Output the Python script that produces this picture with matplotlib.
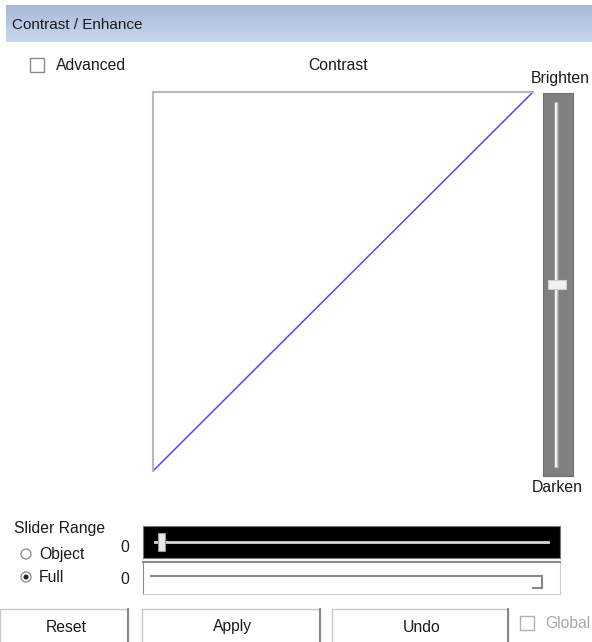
import matplotlib
matplotlib.use("Agg")
import matplotlib.pyplot as plt
import numpy as np
from matplotlib.patches import Rectangle
from matplotlib.colors import LinearSegmentedColormap

plt.rcParams['font.family'] = ['Liberation Sans', 'DejaVu Sans']

# Data
curve_in = [0, 255]
curve_out = [0, 255]
brightness_value = 0          # slider in middle (range -100..100)
brightness_range = (-100, 100)
range_value_top = 0
range_value_bottom = 0
title = "Contrast / Enhance"
buttons = ["Reset", "Apply", "Undo"]

W, H = 592, 642
FS = 11.3
TXT = '#1a1a1a'
fig = plt.figure(figsize=(W / 100, H / 100), dpi=100)
bg = fig.add_axes([0, 0, 1, 1])
bg.axis('off')

def px_axes(x0, y0, x1, y1):
    return fig.add_axes([x0 / W, 1 - y1 / H, (x1 - x0) / W, (y1 - y0) / H])

# Title bar gradient
grad = np.linspace(0, 1, 50).reshape(-1, 1)
cm = LinearSegmentedColormap.from_list('tb', ['#a7b8d8', '#c9d8ef'])
bg.imshow(grad, extent=(6, W, 42, 5), cmap=cm, aspect='auto', zorder=0)
bg.set_xlim(0, W)
bg.set_ylim(H, 0)
bg.text(12, 25, title, fontsize=11, va='center', ha='left', color=TXT)

# Advanced checkbox
bg.add_patch(Rectangle((30, 58), 14, 14, fill=False, ec='#8a8a8a', lw=1))
bg.text(56, 66, "Advanced", fontsize=FS, va='center', ha='left', color=TXT)
bg.text(338, 65, "Contrast", fontsize=FS, va='center', ha='center', color=TXT)
bg.text(560, 78, "Brighten", fontsize=FS, va='center', ha='center', color=TXT)
bg.text(557, 488, "Darken", fontsize=FS, va='center', ha='center', color=TXT)

# Curve plot
ax = px_axes(153, 92, 533, 471)
ax.plot(curve_in, curve_out, color='#4a4aff', lw=1.1)
ax.set_xlim(0, 255)
ax.set_ylim(0, 255)
ax.set_xticks([])
ax.set_yticks([])
for s in ['right', 'bottom']:
    ax.spines[s].set_visible(False)
for s in ['left', 'top']:
    ax.spines[s].set_color('#b8b8b8')
    ax.spines[s].set_linewidth(1.5)

# Vertical brightness slider
sax = px_axes(543, 93, 573, 476)
sax.set_xlim(0, 1)
sax.set_ylim(brightness_range[0] - 5, brightness_range[1] + 5)
sax.set_facecolor('#808080')
sax.set_xticks([]); sax.set_yticks([])
for s in sax.spines.values():
    s.set_color('#6e6e6e')
sax.plot([0.43, 0.43], brightness_range, color='#f4f4f4', lw=2.5, solid_capstyle='butt')
sax.plot([0.47, 0.47], brightness_range, color='#bdbdbd', lw=0.8)
sax.add_patch(Rectangle((0.17, brightness_value - 2.2), 0.6, 4.4, fc='#f2f2f2',
                        ec='#cfcfcf', lw=0.8, zorder=5))

# Slider range section
bg.text(14, 528, "Slider Range", fontsize=FS, va='center', ha='left', color=TXT)
bg.add_patch(plt.Circle((26, 554), 5, fill=False, ec='#8a8a8a', lw=0.9))
bg.text(39, 554, "Object", fontsize=FS, va='center', ha='left', color=TXT)
bg.add_patch(plt.Circle((26, 577), 5, fill=False, ec='#8a8a8a', lw=0.9))
bg.add_patch(plt.Circle((26, 577), 1.8, color='#222222'))
bg.text(39, 577, "Full", fontsize=FS, va='center', ha='left', color=TXT)
bg.text(125, 547, str(range_value_top), fontsize=FS, va='center', ha='center', color=TXT)
bg.text(125, 580, str(range_value_bottom), fontsize=FS, va='center', ha='center', color=TXT)

# Top (black) slider
tax = px_axes(143, 526, 560, 558)
tax.set_xlim(-3, 103)
tax.set_ylim(0, 1)
tax.set_facecolor('black')
tax.set_xticks([]); tax.set_yticks([])
for s in tax.spines.values():
    s.set_color('#777777')
tax.plot([0, 100], [0.5, 0.5], color='#d8d8d8', lw=2)
tax.add_patch(Rectangle((range_value_top + 0.8, 0.22), 1.8, 0.56, fc='#e8e8e8',
                        ec='#999999', lw=0.8, zorder=5))

# Bottom slider
bax = px_axes(143, 562, 560, 594)
bax.set_xlim(-1, 101)
bax.set_ylim(0, 1)
bax.set_facecolor('white')
bax.set_xticks([]); bax.set_yticks([])
for s in bax.spines.values():
    s.set_color('#d0d0d0')
bax.spines['top'].set_color('#8a8a8a')
bax.spines['top'].set_linewidth(1.5)
bax.spines['left'].set_color('#8a8a8a')
bax.plot([1, 96.5], [0.55, 0.55], color='#8a8a8a', lw=1.5)
bax.plot([96.5, 96.5], [0.55, 0.18], color='#8a8a8a', lw=1.5)
bax.plot([94.5, 96.5], [0.18, 0.18], color='#8a8a8a', lw=1.5)

# Buttons
btn_x = [(0, 128), (142, 320), (332, 508)]
for (x0, x1), label in zip(btn_x, buttons):
    bg.add_patch(Rectangle((x0, 609), x1 - x0, 40, fc='white', ec='#c8c8c8', lw=1))
    bg.plot([x1, x1], [609, 642], color='#888888', lw=1.5)
    bg.text((x0 + x1) / 2 + 2, 627, label, fontsize=FS, va='center', ha='center', color=TXT)

bg.add_patch(Rectangle((520, 616), 14, 14, fill=False, ec='#b0b0b0', lw=1))
bg.text(545, 624, "Global", fontsize=FS, va='center', ha='left', color='#a8a8a8')

fig.savefig("out.png", dpi=100)
